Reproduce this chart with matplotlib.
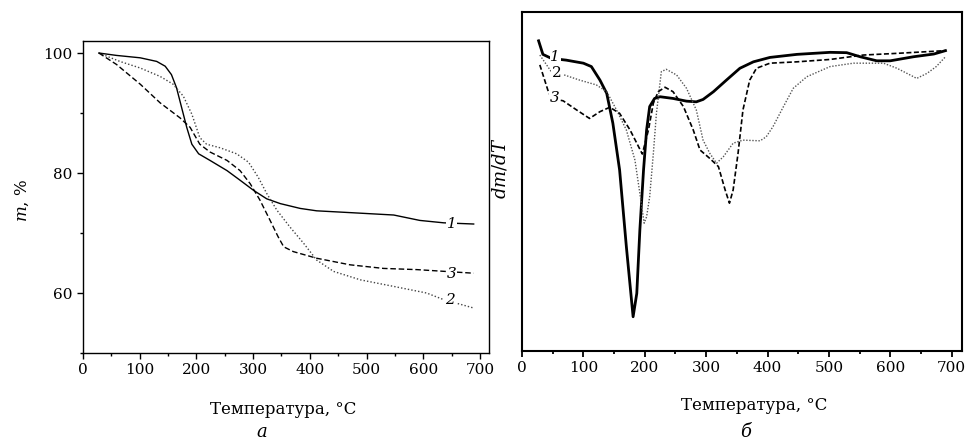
from matplotlib import pyplot as plt
from matplotlib import ticker

# --- panel a: TG curves (mass, %) ---
tg1_t = [28, 59, 101, 130, 145, 156, 165, 174, 183, 192, 204, 224, 254, 277, 301, 324, 348, 383, 412, 471, 548, 594, 636, 689]
tg1_m = [100, 99.6, 99.2, 98.6, 97.8, 96.4, 94.2, 90.9, 87.6, 84.8, 83.2, 82.1, 80.4, 78.8, 77.1, 75.7, 74.9, 74.1, 73.7, 73.4, 73.0, 72.1, 71.7, 71.5]

tg2_t = [28, 65, 101, 136, 159, 177, 192, 206, 218, 242, 271, 292, 309, 324, 342, 365, 389, 412, 442, 489, 548, 606, 636, 689]
tg2_m = [100, 98.6, 97.5, 96.1, 94.8, 92.8, 89.8, 85.9, 84.8, 84.2, 83.2, 81.8, 79.3, 76.6, 73.8, 71.0, 68.3, 65.5, 63.6, 62.2, 61.1, 60.0, 58.9, 57.5]

tg3_t = [28, 59, 101, 136, 171, 189, 206, 224, 254, 277, 295, 312, 330, 344, 354, 371, 412, 471, 530, 589, 689]
tg3_m = [100, 98.1, 94.8, 91.7, 89.2, 87.6, 84.8, 83.5, 82.1, 80.4, 78.2, 75.5, 72.1, 69.4, 67.7, 66.9, 65.8, 64.7, 64.1, 63.9, 63.3]

# --- panel b: DTG curves (arbitrary units) ---
dtg1_t = [27, 34, 48, 72, 100, 113, 127, 138, 148, 159, 170, 181, 187, 192, 198, 203, 208, 216, 225, 246, 268, 284, 295, 312, 333, 355, 377, 404, 448, 502, 529, 551, 578, 600, 638, 671, 690]
dtg1_v = [91.5, 87.5, 86.3, 85.8, 84.9, 83.9, 79.9, 76.0, 67.2, 53.4, 30.8, 10.1, 17.0, 35.7, 53.4, 65.2, 72.1, 74.5, 75.0, 74.5, 73.7, 73.5, 74.2, 76.5, 79.9, 83.4, 85.3, 86.6, 87.5, 88.1, 88.0, 86.8, 85.6, 85.6, 86.8, 87.6, 88.6]

dtg2_t = [29, 48, 61, 94, 121, 138, 154, 170, 184, 192, 199, 203, 208, 214, 219, 227, 235, 252, 268, 284, 295, 306, 317, 328, 344, 360, 388, 398, 409, 426, 442, 464, 502, 540, 589, 611, 638, 643, 660, 675, 690]
dtg2_v = [87.3, 82.3, 81.9, 79.9, 78.5, 76.5, 71.1, 65.2, 56.3, 46.5, 37.7, 39.6, 45.5, 58.3, 70.1, 82.4, 83.1, 81.4, 77.5, 71.1, 62.2, 58.3, 55.4, 57.3, 61.3, 62.2, 62.0, 63.2, 66.2, 72.1, 77.5, 80.9, 83.9, 84.9, 84.9, 83.4, 80.9, 80.4, 81.9, 83.9, 86.8]

dtg3_t = [29, 42, 48, 67, 89, 110, 127, 143, 159, 176, 187, 196, 206, 214, 222, 233, 246, 263, 279, 290, 306, 320, 331, 338, 344, 352, 360, 371, 382, 404, 448, 502, 556, 611, 690]
dtg3_v = [84.4, 77.0, 74.5, 73.8, 71.1, 68.6, 70.6, 71.9, 70.1, 65.2, 61.3, 58.1, 65.2, 73.1, 76.5, 77.8, 76.5, 72.1, 65.2, 59.3, 56.8, 54.4, 47.5, 43.6, 47.5, 58.3, 71.1, 79.9, 83.4, 84.9, 85.3, 86.0, 87.3, 87.8, 88.6]

plt.rcParams['font.family'] = 'DejaVu Serif'
plt.rcParams['mathtext.fontset'] = 'dejavuserif'

fig = plt.figure(figsize=(9.66, 4.41), dpi=100)
ax1 = fig.add_axes([0.0859, 0.1995, 0.4203, 0.7075])
ax2 = fig.add_axes([0.5404, 0.2041, 0.4555, 0.7687])

lab_box = dict(facecolor='white', edgecolor='none', pad=0.5)

# panel a
ax1.plot(tg1_t, tg1_m, color='black', lw=1.0, ls='-')
ax1.plot(tg2_t, tg2_m, color='#444444', lw=1.0, ls=(0, (1, 1.5)))
ax1.plot(tg3_t, tg3_m, color='black', lw=1.0, ls=(0, (4, 2)))
ax1.text(650, 71.5, '1', fontsize=11, style='italic', ha='center', va='center', bbox=lab_box)
ax1.text(650, 63.1, '3', fontsize=11, style='italic', ha='center', va='center', bbox=lab_box)
ax1.text(647, 58.8, '2', fontsize=11, style='italic', ha='center', va='center', bbox=lab_box)

ax1.set_xlim(0, 716)
ax1.set_ylim(50, 102)
ax1.xaxis.set_major_locator(ticker.MultipleLocator(100))
ax1.xaxis.set_minor_locator(ticker.MultipleLocator(50))
ax1.yaxis.set_major_locator(ticker.FixedLocator([60, 80, 100]))
ax1.yaxis.set_minor_locator(ticker.FixedLocator([50, 70, 90]))
ax1.tick_params(which='major', direction='out', length=4, width=1, labelsize=11)
ax1.tick_params(which='minor', direction='out', length=2.5, width=1)
for s in ax1.spines.values():
    s.set_linewidth(1.0)

# panel b
ax2.plot(dtg1_t, dtg1_v, color='black', lw=2.0, ls='-')
ax2.plot(dtg2_t, dtg2_v, color='#555555', lw=1.0, ls=(0, (1, 1.2)))
ax2.plot(dtg3_t, dtg3_v, color='black', lw=1.2, ls=(0, (3, 1.5)))
ax2.text(54, 86.7, '1', fontsize=11, style='italic', ha='center', va='center', bbox=lab_box)
ax2.text(57, 82.0, '2', fontsize=11, ha='center', va='center', bbox=lab_box)
ax2.text(53, 74.6, '3', fontsize=11, style='italic', ha='center', va='center', bbox=lab_box)

ax2.set_xlim(0, 717)
ax2.set_ylim(0, 100)
ax2.xaxis.set_major_locator(ticker.MultipleLocator(100))
ax2.xaxis.set_minor_locator(ticker.MultipleLocator(50))
ax2.set_yticks([])
ax2.tick_params(which='major', direction='out', length=4, width=1.3, labelsize=11)
ax2.tick_params(which='minor', direction='out', length=2.5, width=1.3)
for s in ax2.spines.values():
    s.set_linewidth(1.5)

# labels
fig.text(22 / 966, 1 - 200 / 441, r'$m$, %', rotation=90, ha='center', va='center', fontsize=12)
fig.text(500 / 966, 1 - 168 / 441, r'$dm/dT$', rotation=90, ha='center', va='center', fontsize=13)
fig.text(283 / 966, 1 - 409 / 441, 'Температура, °С', ha='center', va='center', fontsize=12)
fig.text(754 / 966, 1 - 405 / 441, 'Температура, °С', ha='center', va='center', fontsize=12)
fig.text(262 / 966, 1 - 432 / 441, 'а', style='italic', ha='center', va='center', fontsize=13)
fig.text(746 / 966, 1 - 432 / 441, 'б', style='italic', ha='center', va='center', fontsize=13)

fig.savefig('out.png', dpi=100)
